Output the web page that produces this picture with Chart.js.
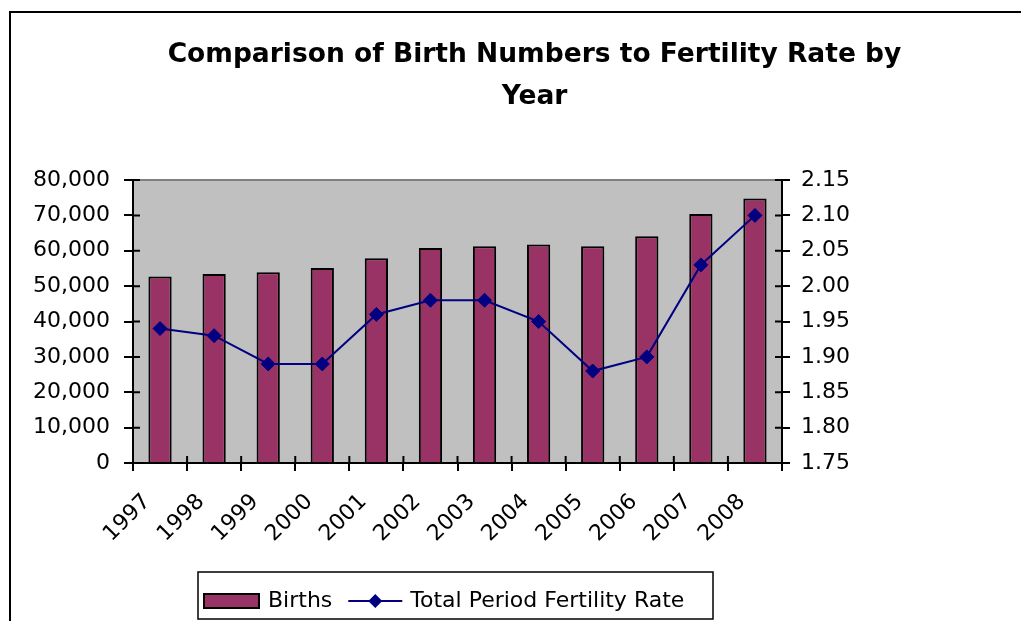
<!DOCTYPE html>
<html>
<head>
<meta charset="utf-8">
<title>Births vs Fertility Rate</title>
<script src="https://cdn.jsdelivr.net/npm/chart.js@4/dist/chart.umd.min.js"></script>
<style>
  html, body { margin: 0; padding: 0; background: #fff; overflow: hidden; }
  #wrap { position: relative; width: 1021px; height: 621px; overflow: hidden; }
  #frame { position: absolute; left: 9px; top: 11px; width: 1100px; height: 700px; border: 2px solid #000; }
  /* the chart area runs a little past the right edge of the view */
  #chart { position: absolute; left: 0; top: 0; }
</style>
</head>
<body>
<div id="wrap">
  <div id="frame"></div>
  <canvas id="chart" width="1069" height="621"></canvas>
</div>
<script>
// Data
const years = ['1997', '1998', '1999', '2000', '2001', '2002', '2003', '2004', '2005', '2006', '2007', '2008'];
const births = [52700, 53400, 53900, 55100, 57900, 60800, 61300, 61800, 61300, 64100, 70400, 74800];
const fertilityRate = [1.94, 1.93, 1.89, 1.89, 1.96, 1.98, 1.98, 1.95, 1.88, 1.90, 2.03, 2.10];

const titleLines = ['Comparison of Birth Numbers to Fertility Rate by', 'Year'];
const birthTicks = { min: 0, max: 80000, step: 10000 };
const rateTicks = { min: 1.75, max: 2.15, step: 0.05 };

const BAR_COLOR = '#993366';
const LINE_COLOR = '#000080';
const FONT = "'DejaVu Sans', sans-serif";

Chart.defaults.font.family = FONT;
Chart.defaults.color = '#000';

// Gray plot area with a thin border
const plotBackground = {
    id: 'plotBackground',
    beforeDraw(chart) {
        const { ctx, chartArea: a } = chart;
        ctx.save();
        ctx.fillStyle = '#c0c0c0';
        ctx.fillRect(a.left, a.top, a.right - a.left, a.bottom - a.top);
        ctx.strokeStyle = '#808080';
        ctx.lineWidth = 2;
        ctx.strokeRect(a.left, a.top, a.right - a.left, a.bottom - a.top);
        ctx.restore();
    }
};

// Tick marks that cross the axis line (inner part)
const crossTicks = {
    id: 'crossTicks',
    afterDraw(chart) {
        const { ctx, chartArea: a, scales } = chart;
        ctx.save();
        ctx.strokeStyle = '#000';
        ctx.lineWidth = 2;
        ctx.beginPath();
        scales.yBirths.ticks.forEach((t, i) => {
            const y = scales.yBirths.getPixelForTick(i);
            ctx.moveTo(a.left, y);
            ctx.lineTo(a.left + 7, y);
        });
        scales.yRate.ticks.forEach((t, i) => {
            const y = scales.yRate.getPixelForTick(i);
            ctx.moveTo(a.right, y);
            ctx.lineTo(a.right - 7, y);
        });
        const x = scales.x;
        for (let i = 0; i <= years.length; i++) {
            const px = x.left + (x.right - x.left) * i / years.length;
            ctx.moveTo(px, a.bottom);
            ctx.lineTo(px, a.bottom - 7);
        }
        ctx.stroke();
        ctx.restore();
    }
};

// Boxed legend under the axis labels
const boxLegend = {
    id: 'boxLegend',
    afterDraw(chart) {
        const ctx = chart.ctx;
        const [barSet, lineSet] = chart.data.datasets;
        const box = { x: 198, y: 572, w: 515, h: 47 };
        const cy = box.y + 29;
        ctx.save();
        ctx.fillStyle = '#fff';
        ctx.fillRect(box.x, box.y, box.w, box.h);
        ctx.strokeStyle = '#000';
        ctx.lineWidth = 1.5;
        ctx.strokeRect(box.x, box.y, box.w, box.h);

        ctx.font = '22px ' + FONT;
        ctx.textBaseline = 'middle';

        // bar swatch
        let x = box.x + 6;
        ctx.fillStyle = barSet.backgroundColor;
        ctx.fillRect(x, cy - 7, 55, 14);
        ctx.lineWidth = 2;
        ctx.strokeRect(x, cy - 7, 55, 14);
        x += 64;
        ctx.fillStyle = '#000';
        ctx.fillText(barSet.label, x, cy);
        x += ctx.measureText(barSet.label).width + 16;

        // line swatch
        ctx.strokeStyle = lineSet.borderColor;
        ctx.lineWidth = 2;
        ctx.beginPath();
        ctx.moveTo(x, cy);
        ctx.lineTo(x + 54, cy);
        ctx.stroke();
        ctx.fillStyle = lineSet.pointBackgroundColor;
        ctx.beginPath();
        ctx.moveTo(x + 27 - 7, cy);
        ctx.lineTo(x + 27, cy - 7);
        ctx.lineTo(x + 27 + 7, cy);
        ctx.lineTo(x + 27, cy + 7);
        ctx.closePath();
        ctx.fill();
        x += 62;
        ctx.fillStyle = '#000';
        ctx.fillText(lineSet.label, x, cy);
        ctx.restore();
    }
};

new Chart(document.getElementById('chart'), {
    data: {
        labels: years,
        datasets: [
            {
                type: 'bar',
                label: 'Births',
                data: births,
                yAxisID: 'yBirths',
                backgroundColor: BAR_COLOR,
                borderColor: '#000',
                borderWidth: 2,
                barPercentage: 0.43,
                categoryPercentage: 1,
                order: 2
            },
            {
                type: 'line',
                label: 'Total Period Fertility Rate',
                data: fertilityRate,
                yAxisID: 'yRate',
                borderColor: LINE_COLOR,
                borderWidth: 2,
                pointStyle: 'rectRot',
                pointRadius: 7,
                pointBackgroundColor: LINE_COLOR,
                pointBorderColor: LINE_COLOR,
                pointBorderWidth: 1,
                tension: 0,
                order: 1
            }
        ]
    },
    options: {
        responsive: false,
        animation: false,
        layout: { padding: { left: 0, right: 0, top: 12, bottom: 0 } },
        plugins: {
            legend: { display: false },
            tooltip: { enabled: false },
            title: {
                display: true,
                text: titleLines,
                color: '#000',
                font: { family: FONT, size: 26.5, weight: 'bold', lineHeight: 42 / 26.5 },
                padding: { top: 22, bottom: 62 }
            }
        },
        scales: {
            x: {
                offset: true,
                grid: { offset: true, drawOnChartArea: false, color: '#000', lineWidth: 2, tickLength: 8 },
                border: { color: '#000', width: 2 },
                ticks: {
                    autoSkip: false,
                    maxRotation: 45,
                    minRotation: 45,
                    padding: 18,
                    labelOffset: -13,
                    font: { size: 22 }
                },
                afterFit(scale) { scale.height = 158; }
            },
            yBirths: {
                position: 'left',
                min: birthTicks.min,
                max: birthTicks.max,
                grid: { drawOnChartArea: false, color: '#000', lineWidth: 2, tickLength: 9 },
                border: { color: '#000', width: 2 },
                ticks: {
                    stepSize: birthTicks.step,
                    padding: 14,
                    font: { size: 22 },
                    callback: v => v.toLocaleString('en-US')
                },
                afterFit(scale) { scale.width = 133; }
            },
            yRate: {
                position: 'right',
                min: rateTicks.min,
                max: rateTicks.max,
                grid: { drawOnChartArea: false, color: '#000', lineWidth: 2, tickLength: 8 },
                border: { color: '#000', width: 2 },
                ticks: {
                    stepSize: rateTicks.step,
                    padding: 11,
                    font: { size: 22 },
                    callback: v => v.toFixed(2)
                },
                afterFit(scale) { scale.width = 287; }
            }
        }
    },
    plugins: [plotBackground, crossTicks, boxLegend]
});
</script>
</body>
</html>
